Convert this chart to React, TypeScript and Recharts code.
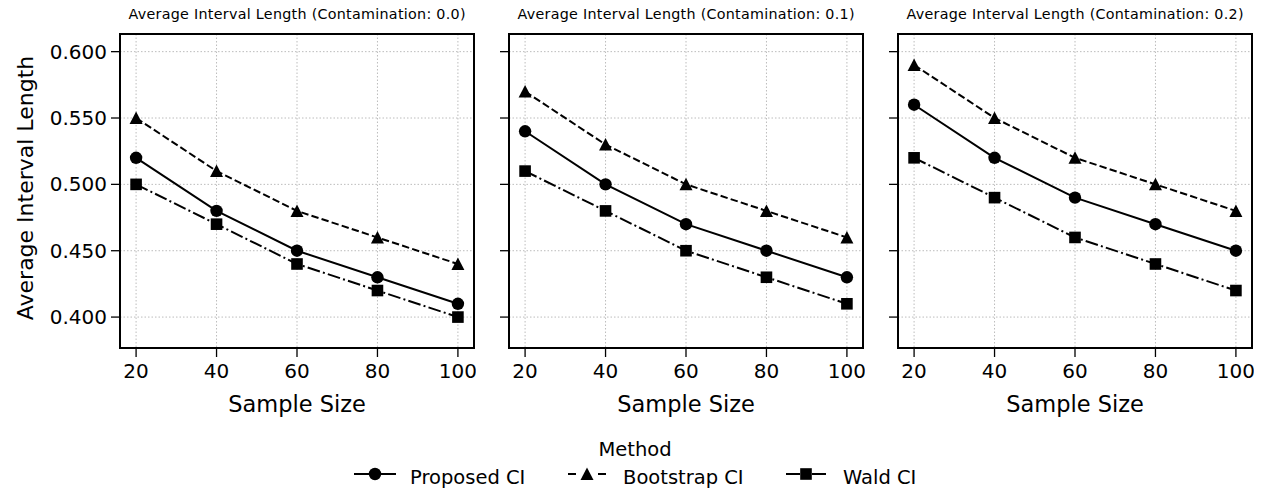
import { CartesianGrid, Line, LineChart, ReferenceArea, XAxis, YAxis } from 'recharts'

const sampleSizes = [20, 40, 60, 80, 100]
const contaminations = ['0.0', '0.1', '0.2']

const proposedCI = [
  [0.52, 0.48, 0.45, 0.43, 0.41],
  [0.54, 0.5, 0.47, 0.45, 0.43],
  [0.56, 0.52, 0.49, 0.47, 0.45],
]
const bootstrapCI = [
  [0.55, 0.51, 0.48, 0.46, 0.44],
  [0.57, 0.53, 0.5, 0.48, 0.46],
  [0.59, 0.55, 0.52, 0.5, 0.48],
]
const waldCI = [
  [0.5, 0.47, 0.44, 0.42, 0.4],
  [0.51, 0.48, 0.45, 0.43, 0.41],
  [0.52, 0.49, 0.46, 0.44, 0.42],
]

const xTicks = [20, 40, 60, 80, 100]
const yTicks = [0.4, 0.45, 0.5, 0.55, 0.6]
const X_DOMAIN: [number, number] = [16, 104]
const Y_DOMAIN: [number, number] = [0.3767, 0.6133]

const PLOT_LEFT = [120, 509, 898]
const PLOT_W = 354
const DASHED = '7.4 3.2'
const DASH_DOT = '12.8 3.2 2 3.2'

function CircleDot(props: any) {
  const { cx, cy, index } = props
  if (cx == null || cy == null) return <g key={index} />
  return <circle key={index} cx={cx} cy={cy} r={6.2} fill="#000" />
}

function TriangleDot(props: any) {
  const { cx, cy, index } = props
  if (cx == null || cy == null) return <g key={index} />
  return <polygon key={index} points={`${cx},${cy - 6.5} ${cx - 6.5},${cy + 6} ${cx + 6.5},${cy + 6}`} fill="#000" />
}

function SquareDot(props: any) {
  const { cx, cy, index } = props
  if (cx == null || cy == null) return <g key={index} />
  return <rect key={index} x={cx - 5.8} y={cy - 5.8} width={11.6} height={11.6} fill="#000" />
}

function YLabel(props: any) {
  const { viewBox } = props
  const y = viewBox.y + viewBox.height / 2 - 3
  return (
    <text x={25} y={y} transform={`rotate(-90, 25, ${y})`} textAnchor="middle" dominantBaseline="central" fontSize={22} fill="#000">
      Average Interval Length
    </text>
  )
}

function Panel({ idx }: { idx: number }) {
  const first = idx === 0
  const yWidth = first ? 120 : 60
  const data = sampleSizes.map((n, i) => ({
    n,
    proposed: proposedCI[idx][i],
    bootstrap: bootstrapCI[idx][i],
    wald: waldCI[idx][i],
  }))

  return (
    <div style={{ position: 'absolute', left: PLOT_LEFT[idx] - yWidth, top: 0 }}>
      <LineChart width={yWidth + PLOT_W + 2} height={428} data={data} margin={{ top: 34, right: 2, bottom: 0, left: 0 }}>
        <CartesianGrid stroke="#bcbcbc" strokeDasharray="1.5 2" strokeWidth={1} />
        <XAxis
          dataKey="n"
          type="number"
          domain={X_DOMAIN}
          ticks={xTicks}
          interval={0}
          allowDataOverflow
          height={80}
          tickSize={9}
          tickMargin={7}
          tick={{ fill: '#000', fontSize: 20 }}
          tickLine={{ stroke: '#000', strokeWidth: 1.3 }}
          axisLine={{ stroke: '#000', strokeWidth: 2 }}
          label={{ value: 'Sample Size', position: 'insideBottom', offset: 16, fill: '#000', fontSize: 22.5 }}
        />
        <YAxis
          type="number"
          domain={Y_DOMAIN}
          ticks={yTicks}
          interval={0}
          allowDataOverflow
          width={yWidth}
          tickSize={9}
          tickMargin={4}
          tick={{ fill: '#000', fontSize: 20 }}
          tickFormatter={(v: number) => (first ? v.toFixed(3) : '')}
          tickLine={{ stroke: '#000', strokeWidth: 1.3 }}
          axisLine={{ stroke: '#000', strokeWidth: 2 }}
          label={first ? <YLabel /> : undefined}
        />
        <ReferenceArea
          x1={X_DOMAIN[0]}
          x2={X_DOMAIN[1]}
          y1={Y_DOMAIN[0]}
          y2={Y_DOMAIN[1]}
          fill="none"
          fillOpacity={0}
          stroke="#000"
          strokeWidth={2}
        />
        <Line type="linear" dataKey="proposed" stroke="#000" strokeWidth={2} dot={CircleDot} activeDot={false} isAnimationActive={false} />
        <Line type="linear" dataKey="bootstrap" stroke="#000" strokeWidth={2} strokeDasharray={DASHED} dot={TriangleDot} activeDot={false} isAnimationActive={false} />
        <Line type="linear" dataKey="wald" stroke="#000" strokeWidth={2} strokeDasharray={DASH_DOT} dot={SquareDot} activeDot={false} isAnimationActive={false} />
      </LineChart>
    </div>
  )
}

function Overlay() {
  return (
    <svg width={1265} height={490} style={{ position: 'absolute', left: 0, top: 0, pointerEvents: 'none' }}>
      {contaminations.map((c, i) => (
        <text
          key={c}
          x={PLOT_LEFT[i] + PLOT_W / 2}
          y={19}
          textAnchor="middle"
          fontSize={14.3}
          textLength={337}
          lengthAdjust="spacing"
          fill="#000"
        >
          {`Average Interval Length (Contamination: ${c})`}
        </text>
      ))}
      <text x={635} y={456} textAnchor="middle" fontSize={19.5} fill="#000">Method</text>

      {/* legend handles */}
      <line x1={354} x2={396} y1={474} y2={474} stroke="#000" strokeWidth={2} />
      <circle cx={375} cy={474} r={6.2} fill="#000" />
      <text x={410} y={484} fontSize={19.5} fill="#000">Proposed CI</text>

      <line x1={568} x2={576} y1={474} y2={474} stroke="#000" strokeWidth={2} />
      <line x1={598} x2={606} y1={474} y2={474} stroke="#000" strokeWidth={2} />
      <polygon points="587,467.5 580.5,480 593.5,480" fill="#000" />
      <text x={623} y={484} fontSize={19.5} fill="#000">Bootstrap CI</text>

      <line x1={786} x2={800} y1={474} y2={474} stroke="#000" strokeWidth={2} />
      <line x1={812} x2={826} y1={474} y2={474} stroke="#000" strokeWidth={2} />
      <rect x={800.2} y={468.2} width={11.6} height={11.6} fill="#000" />
      <text x={843} y={484} fontSize={19.5} fill="#000">Wald CI</text>
    </svg>
  )
}

export default function App() {
  return (
    <div
      style={{
        position: 'absolute',
        left: 0,
        top: 0,
        width: 1265,
        height: 490,
        background: '#fff',
        fontFamily: '"DejaVu Sans", sans-serif',
      }}
    >
      {[0, 1, 2].map((i) => (
        <Panel key={i} idx={i} />
      ))}
      <Overlay />
    </div>
  )
}
